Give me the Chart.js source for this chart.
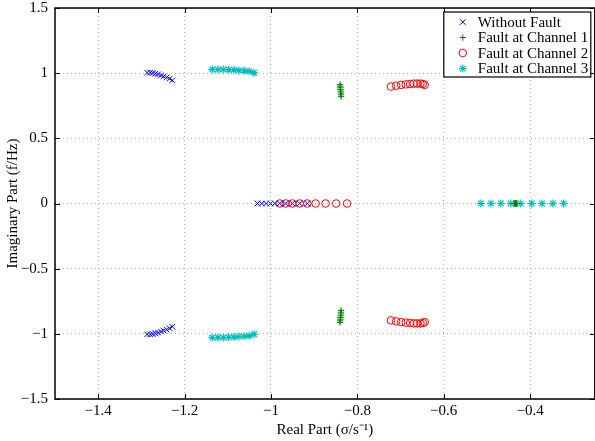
<!DOCTYPE html>
<html>
<head>
<meta charset="utf-8">
<script src="https://cdn.jsdelivr.net/npm/chart.js@4"></script>
<style>
  html, body { margin: 0; padding: 0; background: #fff; overflow: hidden; }
  #wrap { width: 600px; height: 441px; }
</style>
</head>
<body>
<div id="wrap"><canvas id="chart"></canvas></div>
<script>
// pole locations
// each case: a complex pair (upper half, mirrored below) plus poles on the real axis
const seriesNames = ['Without Fault', 'Fault at Channel 1', 'Fault at Channel 2', 'Fault at Channel 3'];

const noFaultRe   = [-1.2867, -1.2797, -1.2738, -1.2676, -1.2613, -1.2544, -1.2484, -1.2415, -1.2346, -1.2284];
const noFaultIm   = [1.004, 1.004, 1.002, 0.996, 0.991, 0.983, 0.975, 0.968, 0.958, 0.945];
const noFaultReal = [-1.0311, -1.021, -1.0111, -1.0012, -0.991, -0.9795, -0.9656, -0.9504, -0.9333, -0.9158];

const ch1Re   = [-0.840, -0.8395, -0.839, -0.839, -0.8385, -0.838, -0.838, -0.8375];
const ch1Im   = [0.912, 0.900, 0.888, 0.875, 0.862, 0.848, 0.834, 0.820];
const ch1Real = [-0.437, -0.436, -0.435, -0.434, -0.433, -0.432, -0.431, -0.430];

const ch2Re   = [-0.7221, -0.7100, -0.6984, -0.6876, -0.6777, -0.6692, -0.6615, -0.6537, -0.6484, -0.6438];
const ch2Im   = [0.897, 0.904, 0.910, 0.914, 0.917, 0.920, 0.920, 0.920, 0.917, 0.910];
const ch2Real = [-0.9795, -0.9656, -0.9504, -0.9333, -0.9158, -0.8965, -0.8734, -0.8489, -0.8236];

const ch3Re   = [-1.1357, -1.1226, -1.1103, -1.0979, -1.0857, -1.0742, -1.0620, -1.0505, -1.0390];
const ch3Im   = [1.029, 1.029, 1.029, 1.027, 1.025, 1.021, 1.019, 1.014, 1.004];
const ch3Real = [-0.5136, -0.4905, -0.4675, -0.4444, -0.4214, -0.3960, -0.3722, -0.3469, -0.3222];

const xTicks = [-1.4, -1.2, -1, -0.8, -0.6, -0.4];
const yTicks = [-1.5, -1, -0.5, 0, 0.5, 1, 1.5];

function poles(re, im, real) {
    const pts = [];
    re.forEach((x, i) => pts.push({ x: x, y: im[i] }));
    re.forEach((x, i) => pts.push({ x: x, y: -im[i] }));
    real.forEach(x => pts.push({ x: x, y: 0 }));
    return pts;
}

const minus = v => (v < 0 ? '\u2212' : '') + Math.abs(v);
const serif = size => ({ family: '"Liberation Serif"', size: size });

const axesBox = {
    id: 'axesBox',
    afterDatasetsDraw(chart) {
        const { ctx, chartArea, scales } = chart;
        const t = 5;
        ctx.save();
        ctx.strokeStyle = '#000';
        ctx.lineWidth = 1;
        ctx.beginPath();
        scales.x.ticks.forEach(tk => {
            const x = Math.round(scales.x.getPixelForValue(tk.value)) + 0.5;
            ctx.moveTo(x, chartArea.bottom); ctx.lineTo(x, chartArea.bottom - t);
            ctx.moveTo(x, chartArea.top);    ctx.lineTo(x, chartArea.top + t);
        });
        scales.y.ticks.forEach(tk => {
            const y = Math.round(scales.y.getPixelForValue(tk.value)) + 0.5;
            ctx.moveTo(chartArea.left, y);  ctx.lineTo(chartArea.left + t, y);
            ctx.moveTo(chartArea.right, y); ctx.lineTo(chartArea.right - t, y);
        });
        ctx.stroke();
        ctx.lineWidth = 1.5;
        ctx.strokeRect(chartArea.left, chartArea.top,
            chartArea.right - chartArea.left, chartArea.bottom - chartArea.top);
        ctx.restore();
    }
};

// matlab style legend box, top right inside the axes
const boxLegend = {
    id: 'boxLegend',
    afterDraw(chart) {
        const { ctx, chartArea } = chart;
        const w = 147, h = 65, rowH = 15.5;
        const left = chartArea.right - 4 - w;
        const top = chartArea.top + 4;
        ctx.save();
        ctx.fillStyle = '#fff';
        ctx.fillRect(left, top, w, h);
        ctx.strokeStyle = '#000';
        ctx.lineWidth = 1.2;
        ctx.strokeRect(left, top, w, h);
        ctx.font = '15px "Liberation Serif"';
        ctx.textBaseline = 'middle';
        ctx.textAlign = 'left';
        chart.data.datasets.forEach((ds, i) => {
            const y = top + 10 + i * rowH;
            ctx.strokeStyle = ds.pointBorderColor;
            ctx.fillStyle = 'rgba(0,0,0,0)';
            ctx.lineWidth = ds.pointBorderWidth;
            Chart.helpers.drawPoint(ctx, {
                pointStyle: ds.pointStyle,
                radius: ds.pointRadius,
                borderWidth: ds.pointBorderWidth,
                rotation: 0
            }, left + 19, y);
            ctx.fillStyle = '#000';
            ctx.fillText(ds.label, left + 34, y + 1);
        });
        ctx.restore();
    }
};

const mk = (label, data, color, style, r, bw) => ({
    label: label, data: data,
    pointStyle: style, pointRadius: r, pointHoverRadius: r,
    borderColor: color, backgroundColor: 'rgba(0,0,0,0)',
    pointBorderColor: color, pointBackgroundColor: 'rgba(0,0,0,0)',
    borderWidth: bw, pointBorderWidth: bw, showLine: false
});

new Chart(document.getElementById('chart'), {
    type: 'scatter',
    data: {
        datasets: [
            mk(seriesNames[0], poles(noFaultRe, noFaultIm, noFaultReal), '#0000ff', 'crossRot', 4, 1),
            mk(seriesNames[1], poles(ch1Re, ch1Im, ch1Real), '#008000', 'cross', 3.2, 1),
            mk(seriesNames[2], poles(ch2Re, ch2Im, ch2Real), '#ff0000', 'circle', 3.8, 1),
            mk(seriesNames[3], poles(ch3Re, ch3Im, ch3Real), '#00bfbf', 'star', 4, 1.2)
        ]
    },
    options: {
        responsive: true,
        maintainAspectRatio: false,
        animation: false,
        layout: { padding: { left: 0, right: 3, top: 8, bottom: 0 } },
        plugins: {
            legend: { display: false },
            tooltip: { enabled: false }
        },
        scales: {
            x: {
                type: 'linear', min: -1.5, max: -0.25,
                afterBuildTicks: s => { s.ticks = xTicks.map(v => ({ value: v })); },
                afterFit: s => { s.height = 42; s.paddingLeft = 0; s.paddingRight = 0; },
                grid: { color: 'rgba(0,0,0,0.3)', lineWidth: 1, drawTicks: false },
                border: { display: false, dash: [1, 3] },
                ticks: {
                    padding: 3, color: '#000', maxRotation: 0,
                    font: serif(15),
                    callback: v => minus(v)
                },
                title: {
                    display: true, text: 'Real Part (\u03c3/s\u207b\u00b9)', color: '#000',
                    font: serif(15),
                    padding: { top: 0, bottom: 2 }
                }
            },
            y: {
                type: 'linear', min: -1.5, max: 1.5,
                afterBuildTicks: s => { s.ticks = yTicks.map(v => ({ value: v })); },
                afterFit: s => { s.width = 55; s.paddingTop = 0; s.paddingBottom = 0; },
                grid: { color: 'rgba(0,0,0,0.3)', lineWidth: 1, drawTicks: false },
                border: { display: false, dash: [1, 3] },
                ticks: {
                    padding: 7, color: '#000',
                    font: serif(15),
                    callback: v => minus(v)
                },
                title: {
                    display: true, text: 'Imaginary Part (f/Hz)', color: '#000',
                    font: serif(15),
                    padding: { top: 4, bottom: 0 }
                }
            }
        }
    },
    plugins: [axesBox, boxLegend]
});
</script>
</body>
</html>
